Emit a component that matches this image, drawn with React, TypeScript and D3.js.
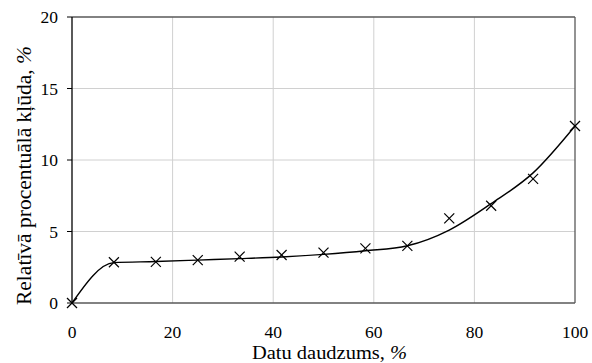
import React, { useEffect, useRef } from "react";
import * as d3 from "d3";

const xValues = [0, 8.33, 16.67, 25, 33.33, 41.67, 50, 58.33, 66.67, 75, 83.33, 91.67, 100];
const markerValues = [0, 2.85, 2.88, 3.0, 3.24, 3.36, 3.52, 3.82, 4.0, 5.92, 6.8, 8.68, 12.38];
const curveValues = [0, 2.82, 2.9, 3.0, 3.1, 3.22, 3.4, 3.65, 4.0, 5.1, 6.95, 9.1, 12.38];
const xTicks = [0, 20, 40, 60, 80, 100];
const yTicks = [0, 5, 10, 15, 20];

const W = 592, H = 363;
const M = { left: 72, right: 575, top: 17, bottom: 303 };
const FONT = "'Liberation Serif', 'Times New Roman', serif";

export default function App() {
  const ref = useRef<SVGGElement | null>(null);
  const x = d3.scaleLinear().domain([0, 100]).range([M.left, M.right]);
  const y = d3.scaleLinear().domain([0, 20]).range([M.bottom, M.top]);
  const line = d3
    .line<number>()
    .x((_, i) => x(xValues[i]))
    .y((d) => y(d))
    .curve(d3.curveMonotoneX);
  const r = 5;

  useEffect(() => {
    const g = d3.select(ref.current);
    g.selectAll("*").remove();
    g.selectAll("text.yt")
      .data(yTicks)
      .join("text")
      .attr("class", "yt")
      .attr("x", 58)
      .attr("y", (d) => y(d) + 6)
      .attr("text-anchor", "end")
      .attr("font-family", FONT)
      .style("font-family", FONT, "important")
      .style("font-size", "17.5px")
      .text((d) => String(d));
    g.selectAll("text.xt")
      .data(xTicks)
      .join("text")
      .attr("class", "xt")
      .attr("x", (d) => x(d))
      .attr("y", 338)
      .attr("text-anchor", "middle")
      .attr("font-family", FONT)
      .style("font-family", FONT, "important")
      .style("font-size", "17.5px")
      .text((d) => String(d));
    const xt = g
      .append("text")
      .attr("x", 252)
      .attr("y", 359)
      .attr("textLength", 155)
      .attr("lengthAdjust", "spacingAndGlyphs")
      .attr("font-family", FONT)
      .style("font-family", FONT, "important")
      .style("font-size", "19px");
    xt.append("tspan").style("font-family", FONT, "important").text("Datu daudzums, ");
    xt.append("tspan").style("font-family", FONT, "important").style("font-style", "italic").text("%");
    const yt = g
      .append("text")
      .attr("transform", "translate(31, 305) rotate(-90)")
      .attr("textLength", 259)
      .attr("lengthAdjust", "spacingAndGlyphs")
      .attr("font-family", FONT)
      .style("font-family", FONT, "important")
      .style("font-size", "20px");
    yt.append("tspan").style("font-family", FONT, "important").text("Relatīvā procentuālā kļūda, ");
    yt.append("tspan").style("font-family", FONT, "important").style("font-style", "italic").text("%");
  }, []);

  return (
    <svg width={W} height={H} style={{ position: "absolute", left: 0, top: 0 }}>
      <rect width={W} height={H} fill="#fff" />
      {xTicks.slice(1, -1).map((t) => (
        <line key={"gx" + t} x1={x(t)} x2={x(t)} y1={M.top} y2={M.bottom} stroke="#d0d0d0" strokeWidth={1} />
      ))}
      {yTicks.slice(1, -1).map((t) => (
        <line key={"gy" + t} x1={M.left} x2={M.right} y1={y(t)} y2={y(t)} stroke="#d0d0d0" strokeWidth={1} />
      ))}
      <line x1={M.left} x2={M.right} y1={M.top} y2={M.top} stroke="#595959" strokeWidth={1.3} />
      <line x1={M.right} x2={M.right} y1={M.top} y2={M.bottom} stroke="#595959" strokeWidth={1.3} />
      <line x1={M.left} x2={M.right} y1={M.bottom} y2={M.bottom} stroke="#595959" strokeWidth={1.3} />
      <line x1={M.left} x2={M.left} y1={M.top} y2={M.bottom} stroke="#000" strokeWidth={1.3} />
      {yTicks.map((t) => (
        <line key={"tk" + t} x1={M.left - 5} x2={M.left} y1={y(t)} y2={y(t)} stroke="#000" strokeWidth={1} />
      ))}
      <g ref={ref} fill="#000" />
      <path d={line(curveValues) || ""} fill="none" stroke="#000" strokeWidth={1.4} />
      {markerValues.map((v, i) => {
        const cx = x(xValues[i]);
        const cy = y(v);
        return (
          <g key={"m" + i} stroke="#000" strokeWidth={1.2}>
            <line x1={cx - r} y1={cy - r} x2={cx + r} y2={cy + r} />
            <line x1={cx - r} y1={cy + r} x2={cx + r} y2={cy - r} />
          </g>
        );
      })}
    </svg>
  );
}
